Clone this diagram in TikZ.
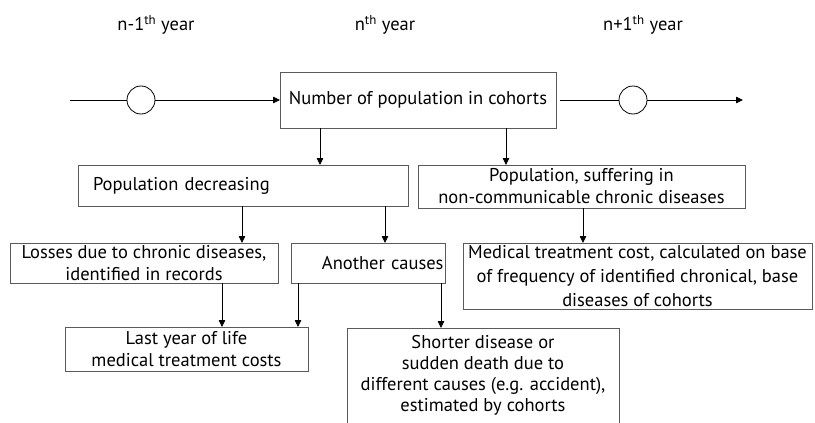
\documentclass[tikz,border=0pt]{standalone}
\usepackage{fontspec}
\setmainfont{PT Sans}
\usetikzlibrary{arrows.meta}
\definecolor{flowGray}{HTML}{5A5A5A}
\tikzset{
  flow diagram/.style={
    x=1pt, y=-1pt, line width=0.8pt,
    >={Triangle[length=7pt,width=6.5pt]},
    every node/.style={font=\fontsize{18.5}{22}\selectfont,
      text=black, outer sep=0pt}
  },
  flow box/.style={draw=flowGray, inner sep=0pt, align=center},
  flow circle/.style={draw=black, circle, minimum size=28pt, inner sep=0pt},
  flow line/.style={draw=black}
}

\begin{document}
\begin{tikzpicture}[flow diagram]
    \useasboundingbox (0,0) rectangle (815,423);
    % years
    \node (yprev) at (156,25) {n-1\textsuperscript{th} year};
    \node (ynow) at (385,25) {n\textsuperscript{th} year};
    \node (ynext) at (643,25) {n+1\textsuperscript{th} year};
    % boxes
    \node[flow box, minimum width=276pt, minimum height=56pt]
      (cohort) at (418,100) {Number of population in cohorts};
    \node[flow box, text width=300pt, inner xsep=15pt, align=left,
      minimum height=41pt] (decr) at (243,185.5) {Population decreasing};
    \node[flow box, minimum width=327pt, minimum height=43pt]
      (suffer) at (581.5,186.5)
      {Population, suffering in\\non-communicable chronic diseases};
    \node[flow box, minimum width=268pt, minimum height=40pt]
      (losses) at (144,263)
      {Losses due to chronic diseases,\\identified in records};
    \node[flow box, text width=151pt, inner xsep=1.5pt, align=right,
      minimum height=40pt] (other) at (368,263) {Another causes};
    \node[flow box, minimum width=349pt, minimum height=66pt,
      font=\fontsize{18.5}{24}\selectfont]
      (medcost) at (637.5,276)
      {Medical treatment cost, calculated on base\\of frequency of
       identified chronical, base\\diseases of cohorts};
    \node[flow box, minimum width=243pt, minimum height=44pt]
      (lastyear) at (186.5,349)
      {Last year of life\\medical treatment costs};
    \node[flow box, minimum width=272pt, inner ysep=7pt, anchor=north,
      text depth=16pt, font=\fontsize{18.5}{21}\selectfont]
      (sudden) at (483,328)
      {Shorter disease or\\sudden death due to\\different causes (e.g. accident),\\estimated by cohorts};
    % time line
    \node[flow circle] (cprev) at (141,100) {};
    \node[flow circle] (cnext) at (633,100) {};
    \coordinate (tstart) at (70,100);
    \coordinate (tend) at (743,100);
    \draw[flow line] (tstart) -- (cprev);
    \draw[flow line,->] (cprev) -- (cohort);
    \draw[flow line] ([xshift=4pt]cohort.east) -- (cnext);
    \draw[flow line,->] (cnext) -- (tend);
    % vertical links
    \coordinate (xa) at (320,0);
    \coordinate (xb) at (506,0);
    \coordinate (xc) at (242,0);
    \coordinate (xd) at (385,0);
    \coordinate (xe) at (583,0);
    \coordinate (xf) at (222,0);
    \coordinate (xg) at (298,0);
    \coordinate (xh) at (441,0);
    \draw[flow line,->] (cohort.south -| xa) -- (decr.north -| xa);
    \draw[flow line,->] (cohort.south -| xb) -- (suffer.north -| xb);
    \draw[flow line,->] (decr.south -| xc) -- (losses.north -| xc);
    \draw[flow line,->] (decr.south -| xd) -- (other.north -| xd);
    \draw[flow line,->] (suffer.south -| xe) -- (medcost.north -| xe);
    \draw[flow line,->] (losses.south -| xf) -- (lastyear.north -| xf);
    \draw[flow line,->] (other.south -| xg) -- (lastyear.north -| xg);
    \draw[flow line,->] (other.south -| xh) -- (sudden.north -| xh);
\end{tikzpicture}
\end{document}
